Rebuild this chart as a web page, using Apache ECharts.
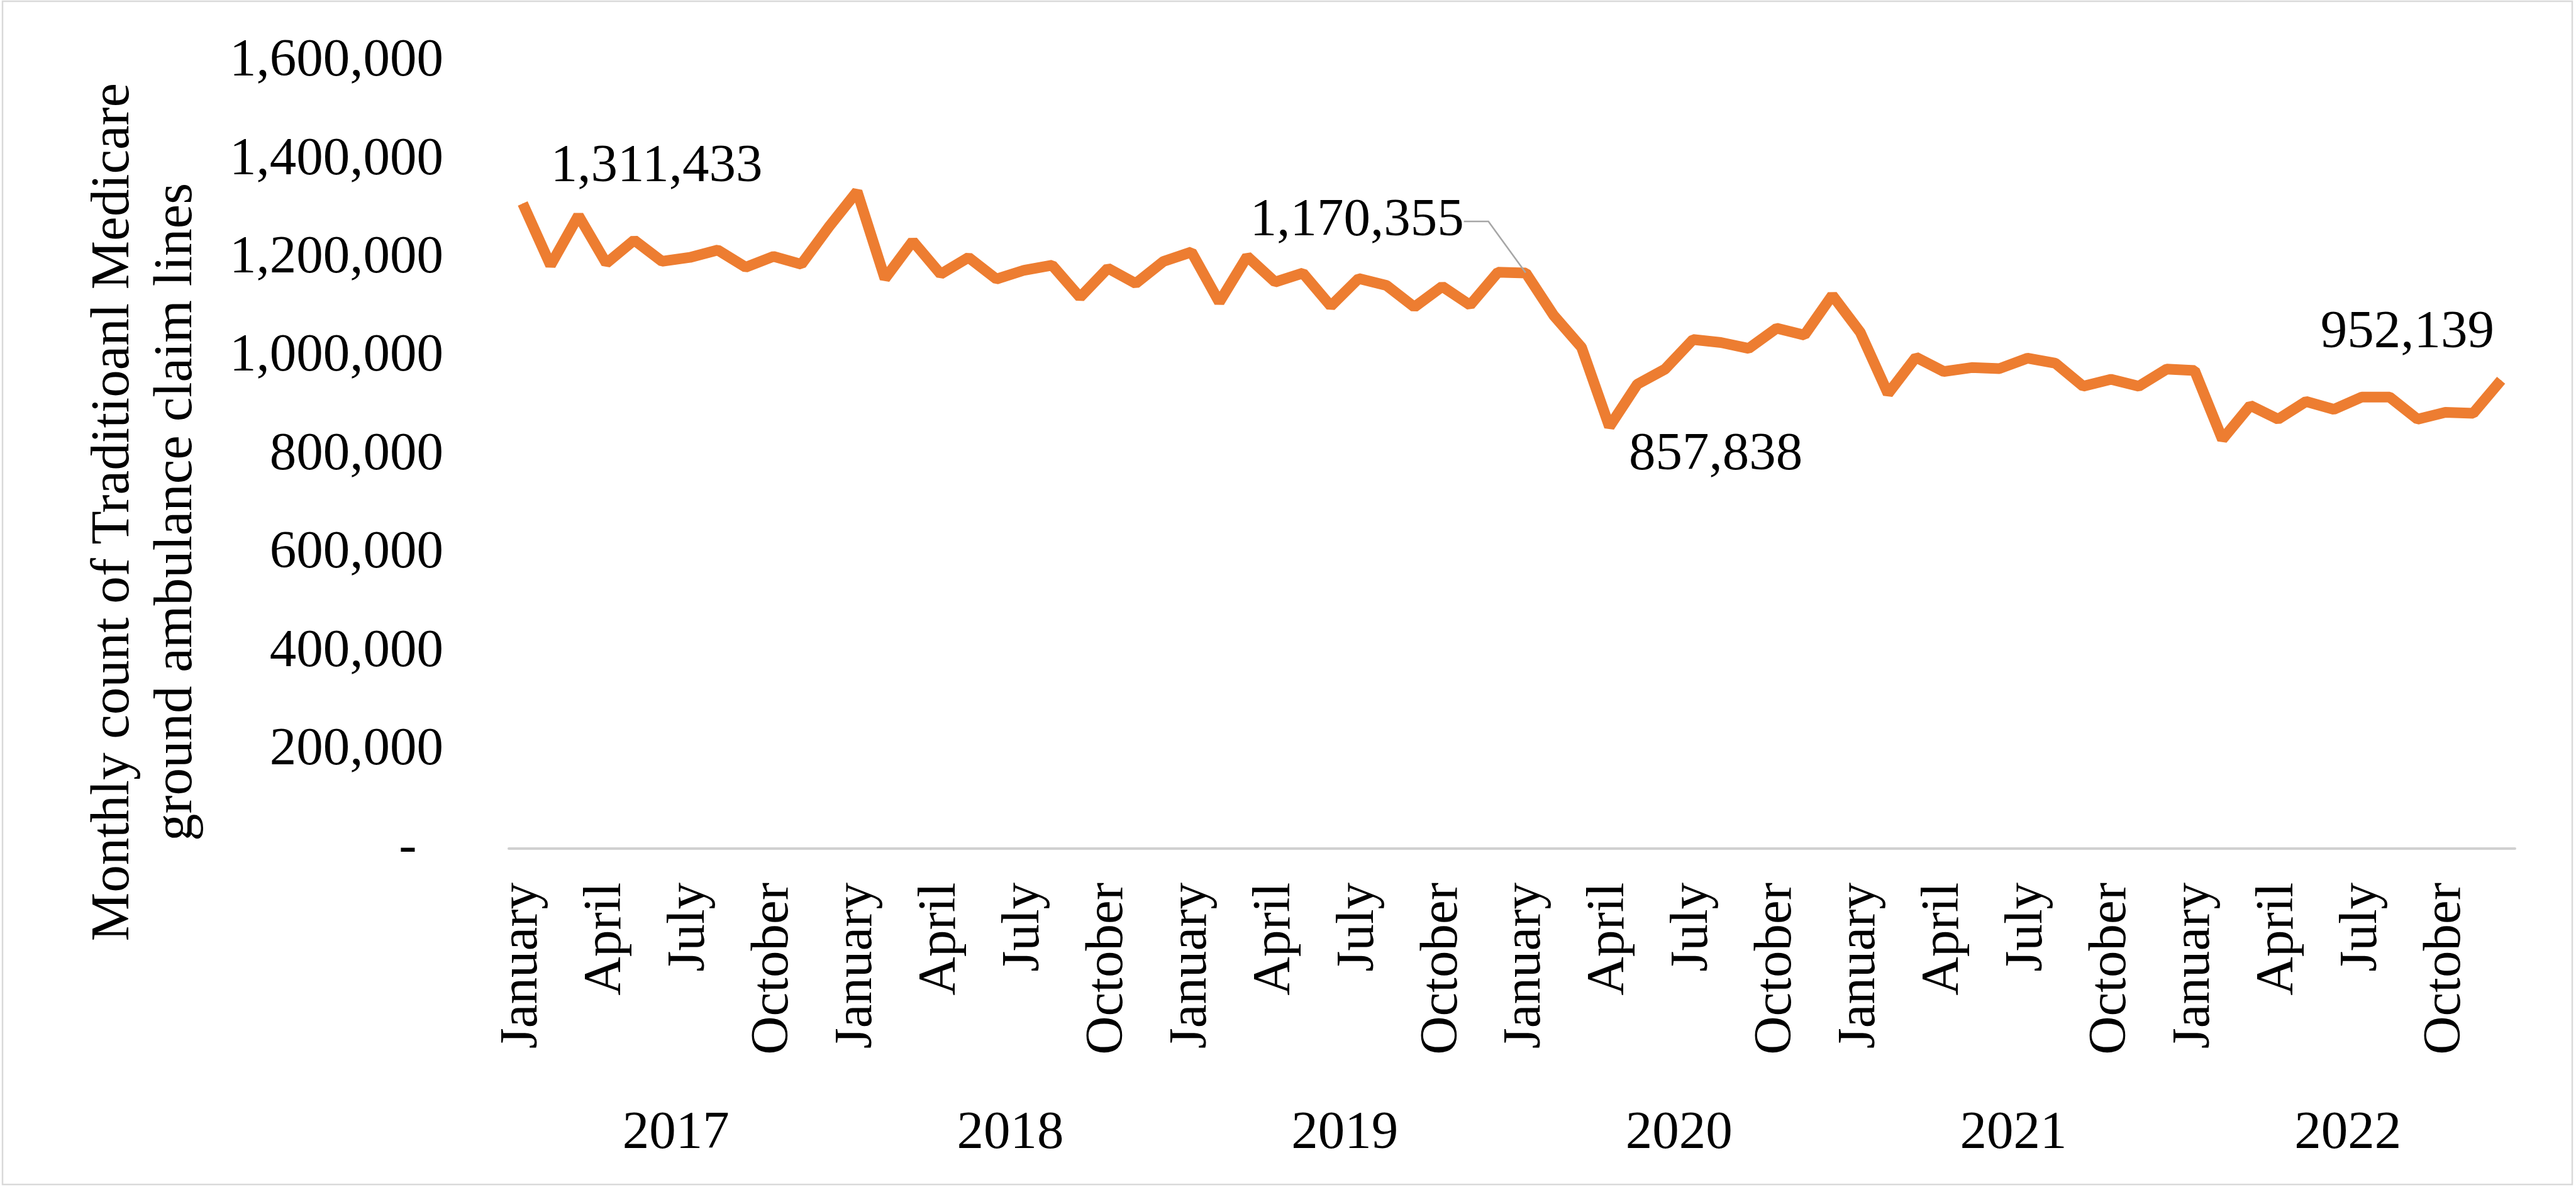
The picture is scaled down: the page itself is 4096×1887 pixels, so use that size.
<!DOCTYPE html>
<html>
<head>
<meta charset="utf-8">
<script src="https://cdn.jsdelivr.net/npm/echarts@6/dist/echarts.min.js"></script>
<style>
  html, body { margin: 0; padding: 0; background: #fff; }
  #chart { width: 4096px; height: 1887px; }
</style>
</head>
<body>
<div id="chart"></div>
<script>
// monthly ground ambulance claim lines, Traditional Medicare
const years = ['2017', '2018', '2019', '2020', '2021', '2022'];
const months = ['January', 'February', 'March', 'April', 'May', 'June',
  'July', 'August', 'September', 'October', 'November', 'December'];
const claimLines = [
  1311433, 1186000, 1287000, 1190000, 1237000, 1194000, 1202000, 1217000, 1182000, 1204000, 1188000, 1265000,
  1336000, 1159000, 1235000, 1168000, 1202000, 1158000, 1176000, 1186000, 1121000, 1180000, 1149000, 1194000,
  1213000, 1111000, 1204000, 1152000, 1170000, 1103000, 1159000, 1145000, 1101000, 1143000, 1105000, 1172000,
  1170355, 1084000, 1019000, 857838, 944000, 975000, 1035000, 1029000, 1017000, 1058000, 1044000, 1125000,
  1050000, 925000, 999000, 970000, 978000, 976000, 997000, 987000, 940000, 954000, 940000, 975000,
  972000, 832000, 901000, 873000, 909000, 893000, 918000, 918000, 873000, 887000, 885000, 952139
];
// points that carry a data label
const labelledIdx = [0, 36, 39, 71];

const chart = echarts.init(document.getElementById('chart'), null, { renderer: 'canvas' });

const FONT = '"Liberation Serif", "Times New Roman", serif';
const FS = 85;

const categories = [];
years.forEach(function (y) {
  months.forEach(function (m) { categories.push(m); });
});

// label shifts (px) relative to the point
const shifts = {
  0: [213, -58],
  36: [-253, -82],
  39: [169, 45],
  71: [-149, -75]
};

const seriesData = claimLines.map(function (v, i) {
  if (labelledIdx.indexOf(i) < 0) return v;
  const item = {
    value: v,
    label: { show: true, position: 'inside' }
  };
  if (i === 36) {
    // leader line starts a little right of the text
    item.label.padding = [0, 31, 0, 0];
    item.labelLine = {
      show: true,
      length2: 39,
      lineStyle: { color: '#a6a6a6', width: 2.5 }
    };
  }
  return item;
});

var option = {
  backgroundColor: '#fff',
  animation: false,
  textStyle: { fontFamily: FONT },
  grid: {
    left: 809,
    right: 97,
    top: 98,
    bottom: 538,
    containLabel: false
  },
  xAxis: [{
    type: 'category',
    data: categories,
    boundaryGap: true,
    axisLine: {
      show: true,
      lineStyle: { color: '#d0d0d0', width: 4 }
    },
    axisTick: { show: false },
    splitLine: { show: false },
    axisLabel: {
      interval: 2,
      rotate: 90,
      margin: 54,
      color: '#000',
      fontFamily: FONT,
      fontSize: FS
    }
  }, {
    type: 'category',
    data: years,
    position: 'bottom',
    boundaryGap: true,
    axisLine: { show: false },
    axisTick: { show: false },
    splitLine: { show: false },
    axisLabel: {
      interval: 0,
      margin: 411,
      color: '#000',
      fontFamily: FONT,
      fontSize: FS
    }
  }],
  yAxis: {
    type: 'value',
    min: 0,
    max: 1600000,
    interval: 200000,
    axisLine: { show: false },
    axisTick: { show: false },
    splitLine: { show: false },
    axisLabel: {
      margin: 104,
      color: '#000',
      fontFamily: FONT,
      fontSize: FS,
      formatter: function (v) {
        return v === 0 ? '-  ' : v.toLocaleString('en-US');
      }
    }
  },
  graphic: [{
    type: 'text',
    x: 231,
    y: 814,
    rotation: Math.PI / 2,
    style: {
      text: 'Monthly count of Traditioanl Medicare\nground ambulance claim lines',
      font: '87px ' + FONT,
      fill: '#000',
      align: 'center',
      verticalAlign: 'middle',
      lineHeight: 100
    }
  }, {
    type: 'rect',
    shape: { x: 4, y: 2, width: 4086, height: 1881 },
    style: { fill: 'none', stroke: '#d9d9d9', lineWidth: 2.5 },
    silent: true
  }],
  series: [{
    type: 'line',
    xAxisIndex: 0,
    data: seriesData,
    symbol: 'circle',
    symbolSize: 1,
    showSymbol: true,
    showAllSymbol: true,
    itemStyle: { color: '#ED7D31' },
    lineStyle: { color: '#ED7D31', width: 17 },
    label: {
      show: false,
      color: '#000',
      fontFamily: FONT,
      fontSize: FS,
      formatter: function (p) { return p.value.toLocaleString('en-US'); }
    },
    labelLayout: function (params) {
      const s = shifts[params.dataIndex];
      return s ? { dx: s[0], dy: s[1] } : null;
    }
  }]
};

chart.setOption(option);
</script>
</body>
</html>
